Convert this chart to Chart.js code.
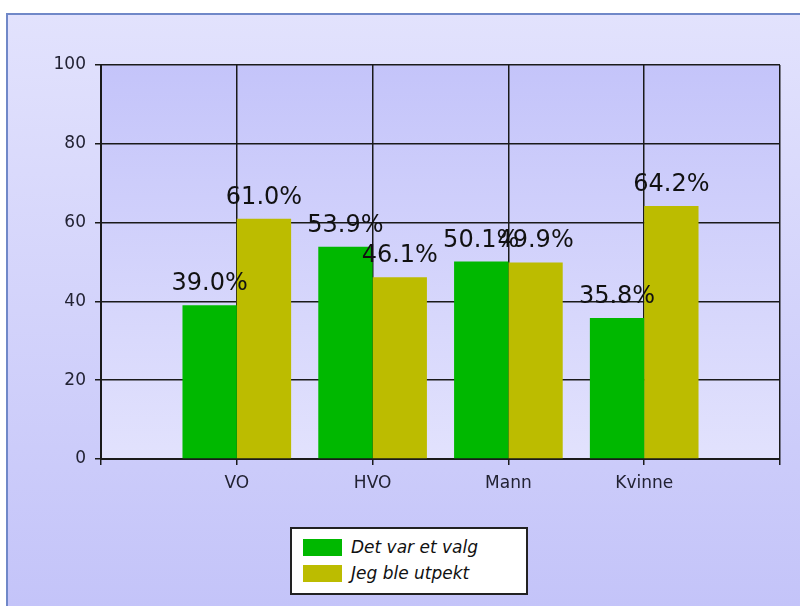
<!DOCTYPE html>
<html>
<head>
<meta charset="utf-8">
<script src="https://cdn.jsdelivr.net/npm/chart.js@4/dist/chart.umd.min.js"></script>
<style>
  html, body { margin: 0; padding: 0; background: #ffffff; }
  #wrap { position: relative; width: 800px; height: 606px; overflow: hidden; }
  #legend {
    position: absolute; left: 290px; top: 527px; width: 234px; height: 64px;
    background: #ffffff; border: 2px solid #222222;
    font-family: "DejaVu Sans", sans-serif; font-style: italic; font-size: 17px; color: #111111;
  }
  .item { position: absolute; left: 11px; height: 17px; line-height: 17px; white-space: nowrap; }
  .sw { display: inline-block; width: 39px; height: 17px; vertical-align: top; margin-right: 9px; }
</style>
</head>
<body>
<div id="wrap">
  <canvas id="c"></canvas>
  <div id="legend"></div>
</div>
<script>
const categories = ['', 'VO', 'HVO', 'Mann', 'Kvinne', ''];
const seriesNames = ['Det var et valg', 'Jeg ble utpekt'];
const valgValues = [null, 39.0, 53.9, 50.1, 35.8, null];
const utpektValues = [null, 61.0, 46.1, 49.9, 64.2, null];
const yTickValues = [0, 20, 40, 60, 80, 100];
const seriesColors = ['#00b800', '#bcbc00'];

const backgroundPlugin = {
  id: 'bg',
  beforeDraw(chart) {
    const ctx = chart.ctx;
    const W = chart.width, H = chart.height;
    const a = chart.chartArea;
    ctx.save();
    ctx.fillStyle = '#ffffff';
    ctx.fillRect(0, 0, W, H);
    const g = ctx.createLinearGradient(0, 14, 0, H);
    g.addColorStop(0, '#e2e2fd');
    g.addColorStop(1, '#c4c4f9');
    ctx.fillStyle = g;
    ctx.fillRect(7, 14, W - 7, H - 14);
    ctx.strokeStyle = '#7088c8';
    ctx.lineWidth = 2;
    ctx.beginPath();
    ctx.moveTo(7, H);
    ctx.lineTo(7, 14);
    ctx.lineTo(W, 14);
    ctx.stroke();
    const pg = ctx.createLinearGradient(0, a.top, 0, a.bottom);
    pg.addColorStop(0, '#c4c4fa');
    pg.addColorStop(1, '#e2e2fd');
    ctx.fillStyle = pg;
    ctx.fillRect(a.left, a.top, a.right - a.left, a.bottom - a.top);
    ctx.restore();
  }
};

const valueLabelPlugin = {
  id: 'valueLabels',
  afterDatasetsDraw(chart) {
    const ctx = chart.ctx;
    ctx.save();
    ctx.font = '24px "DejaVu Sans", sans-serif';
    ctx.fillStyle = '#111111';
    ctx.textAlign = 'center';
    ctx.textBaseline = 'alphabetic';
    chart.data.datasets.forEach((ds, di) => {
      const meta = chart.getDatasetMeta(di);
      meta.data.forEach((el, i) => {
        const v = ds.data[i];
        if (v === null || v === undefined) return;
        ctx.fillText(v.toFixed(1) + '%', el.x, el.y - 15);
      });
    });
    ctx.restore();
  }
};

const chart = new Chart(document.getElementById('c'), {
  type: 'bar',
  data: {
    labels: categories,
    datasets: [
      { label: seriesNames[0], data: valgValues, backgroundColor: seriesColors[0], borderWidth: 0 },
      { label: seriesNames[1], data: utpektValues, backgroundColor: seriesColors[1], borderWidth: 0 }
    ]
  },
  options: {
    responsive: true,
    maintainAspectRatio: false,
    animation: false,
    layout: { padding: { left: 0, right: 20, top: 65, bottom: 0 } },
    datasets: { bar: { categoryPercentage: 0.8, barPercentage: 1.0 } },
    plugins: {
      legend: { display: false },
      tooltip: { enabled: false }
    },
    scales: {
      x: {
        offset: false,
        grid: { offset: false, color: '#1a1a1a', lineWidth: 1.5, tickLength: 6, drawTicks: true },
        border: { color: '#1a1a1a', width: 2 },
        ticks: {
          autoSkip: false, maxRotation: 0, padding: 8,
          color: '#222233', font: { family: '"DejaVu Sans", sans-serif', size: 17 }
        },
        afterFit(scale) { scale.height = 147; }
      },
      y: {
        min: 0, max: 100,
        afterBuildTicks(scale) { scale.ticks = yTickValues.map(v => ({ value: v })); },
        grid: { color: '#1a1a1a', lineWidth: 1.5, tickLength: 6 },
        border: { color: '#1a1a1a', width: 2 },
        ticks: {
          padding: 9,
          color: '#222233', font: { family: '"DejaVu Sans", sans-serif', size: 17 }
        },
        afterFit(scale) { scale.width = 101; }
      }
    }
  },
  plugins: [backgroundPlugin, valueLabelPlugin]
});

// HTML legend built from the chart's datasets
const legendEl = document.getElementById('legend');
chart.data.datasets.forEach((ds, i) => {
  const item = document.createElement('div');
  item.className = 'item';
  item.style.top = (10 + i * 26) + 'px';
  const sw = document.createElement('span');
  sw.className = 'sw';
  sw.style.background = ds.backgroundColor;
  item.appendChild(sw);
  item.appendChild(document.createTextNode(ds.label));
  legendEl.appendChild(item);
});
</script>
</body>
</html>
